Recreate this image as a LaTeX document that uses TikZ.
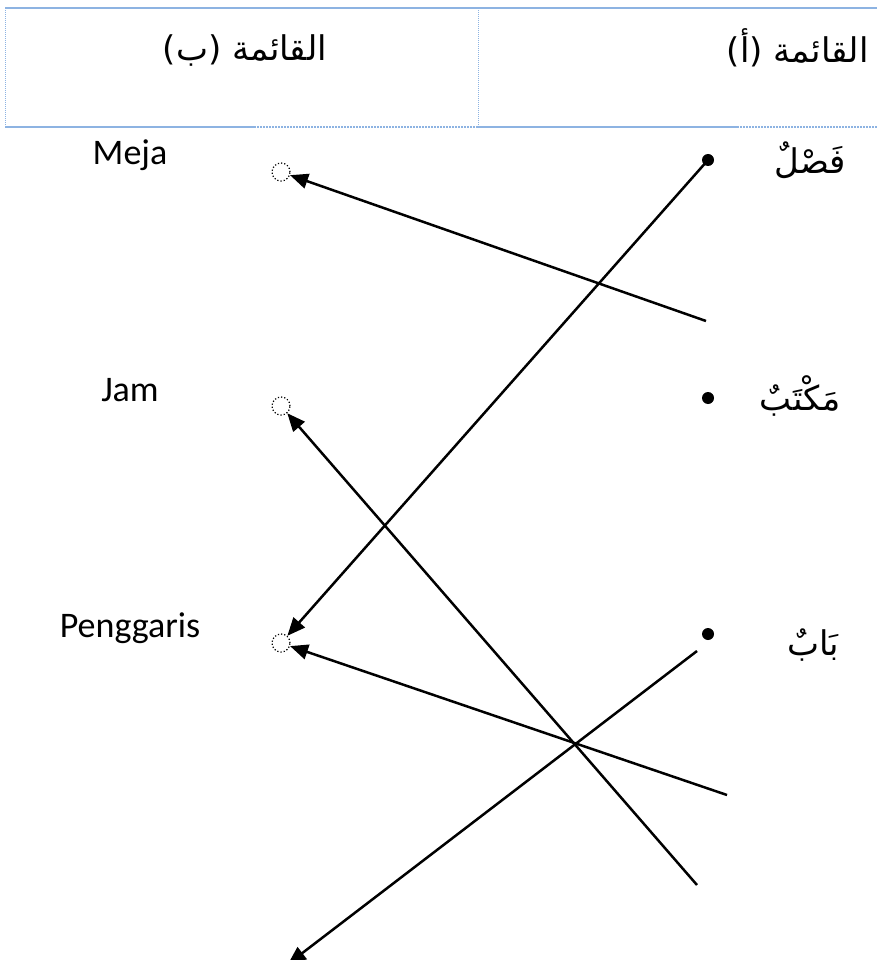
\documentclass[tikz,border=0pt]{standalone}
\usepackage{fontspec}
\usetikzlibrary{arrows.meta}
\TeXXeTstate=1
\newfontfamily\arabicfont[Script=Arabic]{DejaVu Sans}
\setsansfont{Carlito}
\definecolor{tblue}{HTML}{8DB3E2}
\begin{document}
\begin{tikzpicture}[x=1pt,y=-1pt,
  hole/.style={circle,draw,dotted,line width=1.2pt,minimum size=18pt,inner sep=0pt},
  pt/.style={circle,fill=black,minimum size=12pt,inner sep=0pt},
  conn/.style={line width=2.5pt,-{Triangle[length=18pt,width=15pt]}},
  lat/.style={font=\sffamily\fontsize{36}{40}\selectfont},
  arab/.style={font=\arabicfont\fontsize{34}{40}\selectfont},
  head/.style={font=\arabicfont\fontsize{34}{40}\selectfont}]
\useasboundingbox (0,0) rectangle (877,960);
% table
\draw[tblue,line width=2.2pt] (5,8) -- (877,8);
\draw[tblue,line width=1pt,densely dotted] (5,8) -- (5,127);
\draw[tblue,line width=1pt,densely dotted] (478,8) -- (478,127);
\draw[tblue,line width=2.5pt] (5,127) -- (254,127);
\draw[tblue,line width=2.5pt,dash pattern=on 2pt off 1pt] (254,127) -- (478,127);
\draw[tblue,line width=2.5pt] (478,127) -- (737,127);
\draw[tblue,line width=2.5pt,dash pattern=on 2pt off 1pt] (737,127) -- (877,127);
\node[head] (hb) at (245,50) {\beginR القائمة (ب)\endR};
\node[head,anchor=east] (ha) at (872,48) {\beginR القائمة (أ)\endR};
% left labels
\node[lat] (meja) at (130,155) {Meja};
\node[lat] (jam) at (130,390) {Jam};
\node[lat] (peng) at (130,628) {Penggaris};
% holes
\node[hole] (c1) at (281,172) {};
\node[hole] (c2) at (281,406) {};
\node[hole] (c3) at (281,643) {};
% right dots
\node[pt] (d1) at (708,160) {};
\node[pt] (d2) at (708,398) {};
\node[pt] (d3) at (708,634) {};
\node[arab] (w1) at (810,160) {\beginR فَصْلٌ\endR};
\node[arab] (w2) at (800,396) {\beginR مَكْتَبٌ\endR};
\node[arab] (w3) at (813,645) {\beginR بَابٌ\endR};
% free ends
\coordinate (s1) at (706,321);
\coordinate (s3) at (697,885);
\coordinate (s4) at (727,795);
\coordinate (s5) at (697,651);
\coordinate (e5) at (288,964);
% connectors
\draw[conn] (s1) -- (c1);
\draw[conn] (d1.center) -- (c3);
\draw[conn] (s3) -- (c2);
\draw[conn] (s4) -- (c3);
\draw[conn] (s5) -- (e5);
\end{tikzpicture}
\end{document}
